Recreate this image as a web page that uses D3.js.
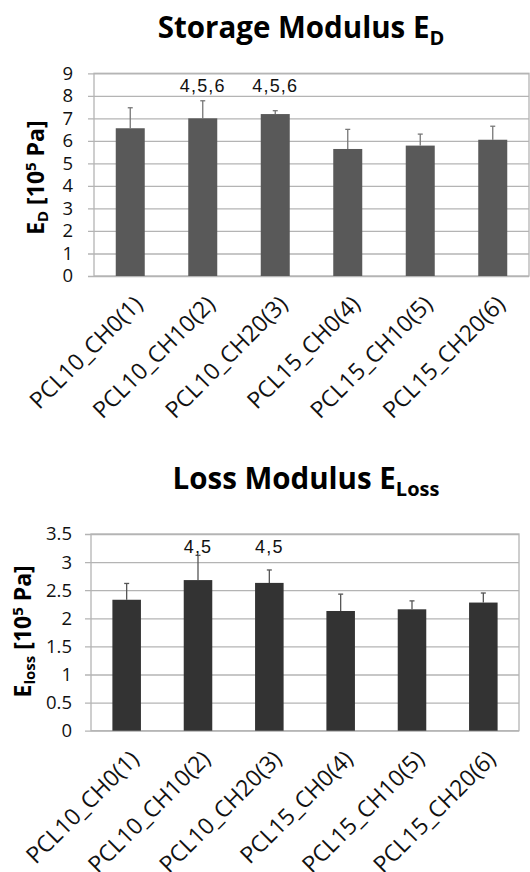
<!DOCTYPE html>
<html>
<head>
<meta charset="utf-8">
<script src="https://cdn.jsdelivr.net/npm/d3@7"></script>
<style>
  body { margin: 0; background: #fff; }
  svg { display: block; }
</style>
</head>
<body>
<div id="chart"></div>
<script>
// samples on the x axis (same for both panels)
const samples = ["PCL10_CH0(1)", "PCL10_CH10(2)", "PCL10_CH20(3)", "PCL15_CH0(4)", "PCL15_CH10(5)", "PCL15_CH20(6)"]

// storage modulus E_D [10^5 Pa]
const storageMean = [6.56, 7.0, 7.19, 5.64, 5.79, 6.05]
const storageSD = [0.91, 0.78, 0.15, 0.87, 0.51, 0.60]
const storageSig = ["", "4,5,6", "4,5,6", "", "", ""]
const storageTicks = [0, 1, 2, 3, 4, 5, 6, 7, 8, 9]

// loss modulus E_loss [10^5 Pa]
const lossMean = [2.33, 2.68, 2.63, 2.13, 2.16, 2.28]
const lossSD = [0.29, 0.44, 0.23, 0.30, 0.15, 0.17]
const lossSig = ["", "4,5", "4,5", "", "", ""]
const lossTicks = [0, 0.5, 1, 1.5, 2, 2.5, 3, 3.5]

const W = 530, H = 872
const gridColor = "#b4b4b4"
const labelFont = "'Open Sans', sans-serif"

const svg = d3.select("#chart").append("svg")
    .attr("width", W)
    .attr("height", H)

const drawPanel = (cfg) => {
    const { box, mean, sd, sig, ticks, barColor, errColor } = cfg

    const x = d3.scaleBand()
        .domain(samples)
        .range([box.left, box.right])
        .paddingInner(0.6)
        .paddingOuter(0.3)

    const y = d3.scaleLinear()
        .domain([0, d3.max(ticks)])
        .range([box.bottom, box.top])

    const g = svg.append("g")

    // title
    const title = g.append("text")
        .attr("x", cfg.titleX)
        .attr("y", cfg.titleY)
        .attr("text-anchor", "middle")
        .attr("font-family", labelFont)
        .attr("font-weight", "bold")
        .attr("font-size", 29.5)
        .attr("fill", "#000")
    title.append("tspan").text(cfg.titleMain)
    title.append("tspan").text(cfg.titleSub)
        .attr("font-size", 20)
        .attr("dy", 7)

    // gridlines + left ticks
    const yAxis = d3.axisLeft(y)
        .tickValues(ticks)
        .tickSize(-(box.right - box.left))
        .tickPadding(cfg.tickPad)
        .tickFormat(d3.format("~g"))

    g.append("g")
        .attr("transform", `translate(${box.left},0)`)
        .call(yAxis)
        .call(a => a.select(".domain").remove())
        .call(a => a.selectAll(".tick line")
            .attr("x1", -6)
            .attr("stroke", gridColor)
            .attr("stroke-width", 1.3))
        .call(a => a.selectAll(".tick text")
            .attr("font-family", labelFont)
            .attr("font-size", 18.5)
            .attr("fill", "#111"))

    // frame
    g.append("rect")
        .attr("x", box.left)
        .attr("y", box.top)
        .attr("width", box.right - box.left)
        .attr("height", box.bottom - box.top)
        .attr("fill", "none")
        .attr("stroke", gridColor)
        .attr("stroke-width", 1.3)

    // error bars (upper only)
    const errs = g.append("g")
        .selectAll("g")
        .data(samples)
        .join("g")
        .attr("stroke", errColor)
        .attr("stroke-width", 1.3)
    errs.append("line")
        .attr("x1", d => x(d) + x.bandwidth() / 2)
        .attr("x2", d => x(d) + x.bandwidth() / 2)
        .attr("y1", (d, i) => y(mean[i]))
        .attr("y2", (d, i) => y(mean[i] + sd[i]))
    errs.append("line")
        .attr("x1", d => x(d) + x.bandwidth() / 2 - 2.5)
        .attr("x2", d => x(d) + x.bandwidth() / 2 + 2.5)
        .attr("y1", (d, i) => y(mean[i] + sd[i]))
        .attr("y2", (d, i) => y(mean[i] + sd[i]))

    // bars
    g.append("g")
        .selectAll("rect")
        .data(samples)
        .join("rect")
        .attr("x", d => x(d))
        .attr("y", (d, i) => y(mean[i]))
        .attr("width", x.bandwidth())
        .attr("height", (d, i) => y(0) - y(mean[i]))
        .attr("fill", barColor)

    // significance marks
    g.append("g")
        .selectAll("text")
        .data(samples)
        .join("text")
        .attr("x", d => x(d) + x.bandwidth() / 2)
        .attr("y", box.top + 19)
        .attr("text-anchor", "middle")
        .attr("font-family", "'Liberation Sans', Arial, sans-serif")
        .attr("font-size", 18)
        .attr("letter-spacing", 1.2)
        .attr("fill", "#111")
        .text((d, i) => sig[i])

    // x labels, rotated
    g.append("g")
        .selectAll("text")
        .data(samples)
        .join("text")
        .attr("transform", d =>
            `translate(${x(d) + x.bandwidth() / 2 + 8},${box.bottom + 24}) rotate(-45)`)
        .attr("text-anchor", "end")
        .attr("dy", "0.35em")
        .attr("font-family", labelFont)
        .attr("font-size", 23)
        .attr("fill", "#111")
        .text(d => d)

    // y title
    const yt = g.append("text")
        .attr("transform", `translate(${cfg.yTitleX},${(box.top + box.bottom) / 2 + cfg.yTitleShift}) rotate(-90)`)
        .attr("text-anchor", "middle")
        .attr("font-family", labelFont)
        .attr("font-weight", "bold")
        .attr("font-size", 23)
        .attr("fill", "#000")
    yt.append("tspan").text("E")
    yt.append("tspan").text(cfg.yTitleSub).attr("font-size", 15).attr("dy", 4)
    yt.append("tspan").text(" [10").attr("dy", -4)
    yt.append("tspan").text("5").attr("font-size", 15).attr("dy", -8)
    yt.append("tspan").text(" Pa]").attr("dy", 8)
}

drawPanel({
    box: { left: 94, right: 529, top: 73.3, bottom: 276 },
    mean: storageMean, sd: storageSD, sig: storageSig, ticks: storageTicks,
    barColor: "#595959", errColor: "#777",
    titleMain: "Storage Modulus E", titleSub: "D",
    titleX: 301, titleY: 37.5, tickPad: 21,
    yTitleSub: "D", yTitleX: 44, yTitleShift: 3
})

drawPanel({
    box: { left: 91, right: 519, top: 534, bottom: 730.7 },
    mean: lossMean, sd: lossSD, sig: lossSig, ticks: lossTicks,
    barColor: "#333333", errColor: "#555",
    titleMain: "Loss Modulus E", titleSub: "Loss",
    titleX: 306, titleY: 489.3, tickPad: 19,
    yTitleSub: "loss", yTitleX: 31, yTitleShift: -1
})
</script>
</body>
</html>
